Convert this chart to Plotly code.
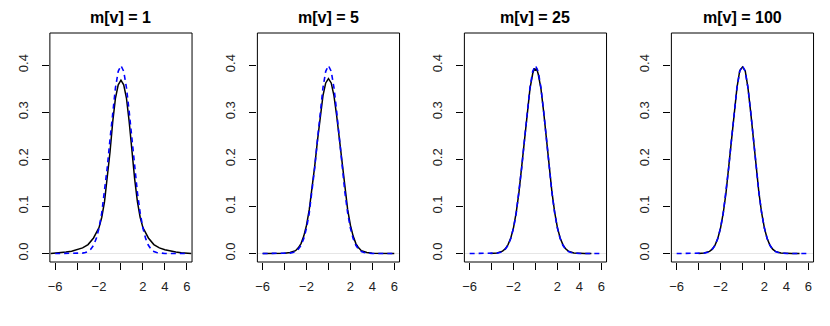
import plotly.graph_objects as go

# panel titles
titles = ["m[v] = 1", "m[v] = 5", "m[v] = 25", "m[v] = 100"]

# blue dashed reference density
x_ref = [-6, -5.5, -5, -4.5, -4, -3.75, -3.5, -3.25, -3, -2.75, -2.5, -2.25, -2, -1.75, -1.5, -1.25, -1, -0.75,
         -0.5, -0.25, 0, 0.25, 0.5, 0.75, 1, 1.25, 1.5, 1.75, 2, 2.25, 2.5, 2.75, 3, 3.25, 3.5, 3.75, 4, 4.5,
         5, 5.5, 6]
y_ref = [0.0, 0.0, 0.0, 0.0, 0.0001, 0.0004, 0.0009, 0.002, 0.0044, 0.0091, 0.0175, 0.0317, 0.054, 0.0863,
         0.1295, 0.1826, 0.242, 0.3011, 0.3521, 0.3867, 0.3989, 0.3867, 0.3521, 0.3011, 0.242, 0.1826, 0.1295,
         0.0863, 0.054, 0.0317, 0.0175, 0.0091, 0.0044, 0.002, 0.0009, 0.0004, 0.0001, 0.0, 0.0, 0.0, 0.0]

# black estimated densities, one per panel
x_m1 = [-6.4, -6, -5.5, -5, -4.5, -4, -3.5, -3, -2.5, -2, -1.75, -1.5, -1.25, -1, -0.75, -0.5, -0.25, 0,
        0.25, 0.5, 0.75, 1, 1.25, 1.5, 1.75, 2, 2.5, 3, 3.5, 4, 4.5, 5, 5.5, 6, 6.4]
y_m1 = [0.0003, 0.0008, 0.0015, 0.003, 0.005, 0.008, 0.012, 0.019, 0.033, 0.055, 0.077, 0.11, 0.158, 0.215,
        0.28, 0.33, 0.358, 0.368, 0.358, 0.33, 0.28, 0.215, 0.158, 0.11, 0.077, 0.055, 0.033, 0.019, 0.012,
        0.008, 0.005, 0.003, 0.0015, 0.0008, 0.0003]

x_m5 = [-6, -5, -4.5, -4, -3.5, -3, -2.75, -2.5, -2.25, -2, -1.75, -1.5, -1.25, -1, -0.75, -0.5, -0.25, 0,
        0.25, 0.5, 0.75, 1, 1.25, 1.5, 1.75, 2, 2.25, 2.5, 2.75, 3, 3.5, 4, 4.5, 5, 6]
y_m5 = [0.0, 0.0001, 0.0003, 0.0008, 0.002, 0.006, 0.012, 0.021, 0.037, 0.06, 0.093, 0.136, 0.186, 0.24,
        0.292, 0.335, 0.362, 0.371, 0.362, 0.335, 0.292, 0.24, 0.186, 0.136, 0.093, 0.06, 0.037, 0.021, 0.012,
        0.006, 0.002, 0.0008, 0.0003, 0.0001, 0.0]

x_m25 = [-4.1, -3.5, -3, -2.75, -2.5, -2.25, -2, -1.75, -1.5, -1.25, -1, -0.75, -0.5, -0.25, -0.1, 0, 0.1,
         0.25, 0.5, 0.75, 1, 1.25, 1.5, 1.75, 2, 2.25, 2.5, 2.75, 3, 3.5, 4, 4.5, 5.1]
y_m25 = [0.0003, 0.0013, 0.005, 0.01, 0.019, 0.033, 0.055, 0.088, 0.131, 0.184, 0.242, 0.3, 0.35, 0.382,
         0.393, 0.388, 0.393, 0.381, 0.35, 0.3, 0.242, 0.184, 0.131, 0.088, 0.055, 0.033, 0.019, 0.01, 0.005,
         0.0013, 0.0003, 0.0001, 0.0]

x_m100 = [-4.0, -3.5, -3, -2.75, -2.5, -2.25, -2, -1.75, -1.5, -1.25, -1, -0.75, -0.5, -0.25, 0, 0.25, 0.5,
          0.75, 1, 1.25, 1.5, 1.75, 2, 2.25, 2.5, 2.75, 3, 3.5, 4, 4.5, 5.2]
y_m100 = [0.0002, 0.001, 0.0045, 0.0092, 0.0178, 0.032, 0.054, 0.086, 0.129, 0.182, 0.241, 0.3, 0.352,
          0.388, 0.396, 0.388, 0.352, 0.3, 0.241, 0.182, 0.129, 0.086, 0.054, 0.032, 0.0178, 0.0092, 0.0045,
          0.001, 0.0002, 0.0, 0.0]

est_x = [x_m1, x_m5, x_m25, x_m100]
est_y = [y_m1, y_m5, y_m25, y_m100]

W, H = 830, 326
lefts = [48, 256, 463.5, 671]
pw = 142.5
box_top, box_bot = 33, 262

fig = go.Figure()
layout = {}
for i in range(4):
    n = "" if i == 0 else str(i + 1)
    xa, ya = "x" + n, "y" + n
    # gray zero line
    fig.add_shape(type="line", xref=xa + " domain", yref=ya, x0=0, x1=1, y0=0, y1=0,
                  line=dict(color="#e6e6e6", width=1), layer="below")
    # box around the panel
    fig.add_shape(type="rect", xref=xa + " domain", yref=ya + " domain", x0=0, x1=1, y0=0, y1=1,
                  line=dict(color="black", width=1), layer="above")
    fig.add_trace(go.Scatter(x=est_x[i], y=est_y[i], mode="lines", xaxis=xa, yaxis=ya,
                             line=dict(color="black", width=1.5), showlegend=False))
    fig.add_trace(go.Scatter(x=x_ref, y=y_ref, mode="lines", xaxis=xa, yaxis=ya,
                             line=dict(color="blue", width=1.6, dash="5px,4px"), showlegend=False))
    common = dict(showline=False, showgrid=False,
                  zeroline=False, ticks="outside", ticklen=7, tickwidth=1, tickcolor="black",
                  tickfont=dict(family="Liberation Sans, Arial", size=13, color="#222"))
    layout["xaxis" + n] = dict(common, domain=[lefts[i] / W, (lefts[i] + pw) / W], anchor=ya,
                               range=[-6.48, 6.48], tickvals=[-6, -4, -2, 0, 2, 4, 6],
                               ticktext=["\u22126", "", "\u22122", "", "2", "4", "6"],
                               ticklabelstandoff=5)
    layout["yaxis" + n] = dict(common, domain=[1 - box_bot / H, 1 - box_top / H], anchor=xa,
                               range=[-0.018, 0.468], tickvals=[0, 0.1, 0.2, 0.3, 0.4],
                               ticktext=["0.0", "0.1", "0.2", "0.3", "0.4"], tickangle=-90,
                               ticklabelstandoff=9)
    fig.add_annotation(text="<b>" + titles[i] + "</b>", x=(lefts[i] + pw / 2) / W, y=1 - 17 / H,
                       xref="paper", yref="paper", showarrow=False, xanchor="center", yanchor="middle",
                       font=dict(family="Liberation Sans, Arial", size=16, color="black"))

fig.update_layout(width=W, height=H, margin=dict(l=0, r=0, t=0, b=0),
                  plot_bgcolor="white", paper_bgcolor="white", **layout)
fig.write_html("out.html", config={"displayModeBar": False},
               post_script="document.body.style.margin='0';")
